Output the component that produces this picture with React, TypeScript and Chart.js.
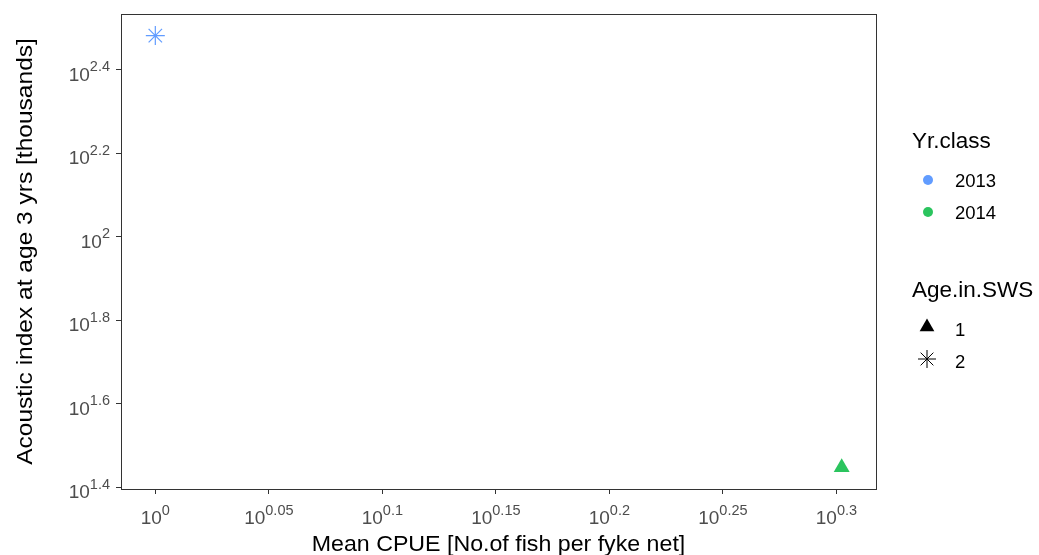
import React, { useEffect, useRef } from 'react';
import { Chart, registerables } from 'chart.js';

Chart.register(...registerables);

// ---- data ----
const yrClass = ['2013', '2014'];
const ageInSWS = ['2', '1'];
const meanCPUE = [1.0, 2.006];
const acousticIndex = [303, 28];

const xTickExponents = ['0', '0.05', '0.1', '0.15', '0.2', '0.25', '0.3'];
const yTickExponents = ['1.4', '1.6', '1.8', '2', '2.2', '2.4'];

const legendYrClasses = ['2013', '2014'];
const legendAges = ['1', '2'];

const xTitle = 'Mean CPUE [No.of fish per fyke net]';
const yTitle = 'Acoustic index at age 3 yrs [thousands]';

// ---- styles ----
const yrColors: Record<string, string> = { '2013': '#619CFF', '2014': '#2BC45E' };
const ageShapes: Record<string, string> = { '1': 'triangle', '2': 'star' };
const FONT = '"Liberation Sans", Arial, sans-serif';
const TICK_COLOR = '#4D4D4D';
const AXIS_COLOR = '#333333';

// ggplot-like 5% expansion on log scale
function expandLog(vals: number[]) {
  const lo = Math.log10(Math.min(...vals));
  const hi = Math.log10(Math.max(...vals));
  const pad = (hi - lo) * 0.05;
  return [Math.pow(10, lo - pad), Math.pow(10, hi + pad)];
}
const [xMin, xMax] = expandLog(meanCPUE);
const [yMin, yMax] = expandLog(acousticIndex);

function drawText(
  ctx: CanvasRenderingContext2D, s: string, x: number, y: number,
  size: number, color: string, align: 'left' | 'center' | 'right', sx = 1
) {
  ctx.save();
  ctx.font = `${size}px ${FONT}`;
  ctx.fillStyle = color;
  ctx.textBaseline = 'alphabetic';
  ctx.textAlign = 'left';
  const w = ctx.measureText(s).width * sx;
  const left = align === 'center' ? x - w / 2 : align === 'right' ? x - w : x;
  ctx.translate(left, y);
  ctx.scale(sx, 1);
  ctx.fillText(s, 0, 0);
  ctx.restore();
}

function powWidth(ctx: CanvasRenderingContext2D, exp: string, base: number, expSize: number) {
  ctx.save();
  ctx.font = `${base}px ${FONT}`;
  const w1 = ctx.measureText('10').width;
  ctx.font = `${expSize}px ${FONT}`;
  const w2 = ctx.measureText(exp).width;
  ctx.restore();
  return [w1, w2];
}

function drawPow(
  ctx: CanvasRenderingContext2D, exp: string, x: number, y: number,
  align: 'center' | 'right'
) {
  const base = 19;
  const expSize = 14.5;
  const [w1, w2] = powWidth(ctx, exp, base, expSize);
  const total = w1 + w2;
  const left = align === 'center' ? x - total / 2 : x - total;
  drawText(ctx, '10', left, y, base, TICK_COLOR, 'left');
  drawText(ctx, exp, left + w1, y - 9.5, expSize, TICK_COLOR, 'left');
}

function drawShape(ctx: CanvasRenderingContext2D, shape: string, x: number, y: number, r: number, color: string) {
  ctx.save();
  ctx.fillStyle = color;
  ctx.strokeStyle = color;
  ctx.lineWidth = 1;
  ctx.beginPath();
  if (shape === 'circle') {
    ctx.arc(x, y, r, 0, Math.PI * 2);
    ctx.fill();
  } else if (shape === 'triangle') {
    for (let k = 0; k < 3; k++) {
      const a = (k * 2 * Math.PI) / 3;
      const px = x + Math.sin(a) * r;
      const py = y - Math.cos(a) * r;
      if (k === 0) ctx.moveTo(px, py); else ctx.lineTo(px, py);
    }
    ctx.closePath();
    ctx.fill();
  } else if (shape === 'star') {
    for (let k = 0; k < 4; k++) {
      const a = (k * Math.PI) / 4;
      ctx.moveTo(x - Math.cos(a) * r, y - Math.sin(a) * r);
      ctx.lineTo(x + Math.cos(a) * r, y + Math.sin(a) * r);
    }
    ctx.stroke();
  }
  ctx.restore();
}

const decorPlugin = {
  id: 'decor',
  afterDraw(chart: any) {
    const ctx: CanvasRenderingContext2D = chart.ctx;
    const { left, right, top, bottom } = chart.chartArea;
    const xs = chart.scales.x;
    const ys = chart.scales.y;

    // panel border
    ctx.save();
    ctx.strokeStyle = AXIS_COLOR;
    ctx.lineWidth = 1;
    ctx.strokeRect(Math.round(left) + 0.5, Math.round(top) + 0.5, Math.round(right - left), Math.round(bottom - top));
    ctx.restore();

    // tick labels
    xTickExponents.forEach((e) => {
      const px = xs.getPixelForValue(Math.pow(10, parseFloat(e)));
      drawPow(ctx, e, px, bottom + 35, 'center');
    });
    yTickExponents.forEach((e) => {
      const py = ys.getPixelForValue(Math.pow(10, parseFloat(e)));
      drawPow(ctx, e, left - 11, py + 11, 'right');
    });

    // axis titles
    drawText(ctx, xTitle, (left + right) / 2, 551, 22.5, '#000', 'center', 1.03);
    ctx.save();
    ctx.translate(32, (top + bottom) / 2);
    ctx.rotate(-Math.PI / 2);
    drawText(ctx, yTitle, 0, 0, 22.5, '#000', 'center', 1.09);
    ctx.restore();

    // legend: Yr.class
    const lx = 912;
    drawText(ctx, 'Yr.class', lx, 148, 22.5, '#000', 'left');
    legendYrClasses.forEach((c, i) => {
      const cy = 180 + i * 32;
      drawShape(ctx, 'circle', 928, cy, 5, yrColors[c]);
      drawText(ctx, c, 955, cy + 6.5, 18.5, '#000', 'left');
    });
    // legend: Age.in.SWS
    drawText(ctx, 'Age.in.SWS', lx, 297, 22.5, '#000', 'left');
    legendAges.forEach((a, i) => {
      const cy = 327 + i * 32;
      drawShape(ctx, ageShapes[a], 927, cy, a === '1' ? 8.5 : 9, '#000');
      drawText(ctx, a, 955, cy + 9, 18.5, '#000', 'left');
    });
  },
};

export default function App() {
  const ref = useRef<HTMLCanvasElement | null>(null);
  useEffect(() => {
    if (!ref.current) return;
    const datasets = meanCPUE.map((x, i) => {
      const age = ageInSWS[i];
      const col = yrColors[yrClass[i]];
      return {
        label: `${yrClass[i]} / ${age}`,
        data: [{ x, y: acousticIndex[i] }],
        pointStyle: ageShapes[age],
        pointRadius: age === '1' ? 9.2 : 9.5,
        pointHoverRadius: age === '1' ? 9.2 : 9.5,
        backgroundColor: col,
        borderColor: col,
        borderWidth: age === '1' ? 0 : 1.2,
      };
    });
    const chart = new Chart(ref.current, {
      type: 'scatter',
      data: { datasets },
      options: {
        animation: false,
        responsive: false,
        events: [],
        layout: { padding: { left: 0, top: 14, right: 163, bottom: 0 } },
        plugins: { legend: { display: false }, tooltip: { enabled: false }, title: { display: false } },
        scales: {
          x: {
            type: 'logarithmic',
            position: 'bottom',
            min: xMin,
            max: xMax,
            afterBuildTicks: (s: any) => {
              s.ticks = xTickExponents.map((e) => ({ value: Math.pow(10, parseFloat(e)) }));
            },
            afterFit: (s: any) => { s.height = 66; },
            ticks: { display: false },
            grid: { display: true, drawOnChartArea: false, drawTicks: true, tickLength: 5, tickColor: AXIS_COLOR, lineWidth: 1 },
            border: { display: false },
          },
          y: {
            type: 'logarithmic',
            position: 'left',
            min: yMin,
            max: yMax,
            afterBuildTicks: (s: any) => {
              s.ticks = yTickExponents.map((e) => ({ value: Math.pow(10, parseFloat(e)) }));
            },
            afterFit: (s: any) => { s.width = 121; },
            ticks: { display: false },
            grid: { display: true, drawOnChartArea: false, drawTicks: true, tickLength: 5, tickColor: AXIS_COLOR, lineWidth: 1 },
            border: { display: false },
          },
        },
      },
      plugins: [decorPlugin],
    } as any);
    return () => chart.destroy();
  }, []);
  return (
    <div style={{ position: 'absolute', left: 0, top: 0, width: 1039, height: 555, background: '#fff' }}>
      <canvas ref={ref} width={1039} height={555} style={{ display: 'block' }} />
    </div>
  );
}
